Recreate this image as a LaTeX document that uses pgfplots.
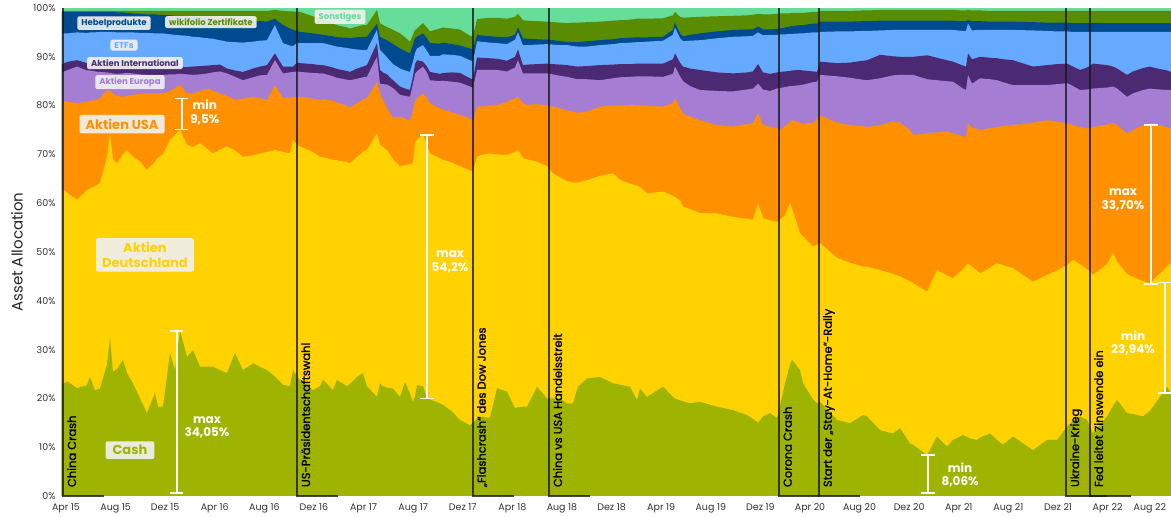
\documentclass[border=0pt]{standalone}
\usepackage{pgfplots}
\pgfplotsset{compat=1.18}
\usepackage{pgfplotstable}
\usepackage{fontspec}
\setmainfont{Poppins}
\newfontfamily\evfont{Poppins}[FakeBold=1.6]
\definecolor{cCash}{HTML}{9EB400}
\definecolor{cDE}{HTML}{FFD200}
\definecolor{cUSA}{HTML}{FF9100}
\definecolor{cEU}{HTML}{A57DD3}
\definecolor{cINT}{HTML}{4B2A73}
\definecolor{cETF}{HTML}{66AAFF}
\definecolor{cHEB}{HTML}{004A8F}
\definecolor{cWIKI}{HTML}{5A8C00}
\definecolor{cSON}{HTML}{66DD99}
\definecolor{boxfill}{HTML}{F0F0F0}

% cumulative tops (percent) of the stacked layers, x in months since Apr 2015
\pgfplotstableread{
m cash de usa eu intl etf hebel wiki
-0.32 23.0 63.0 81.0 86.8 88.5 94.8 99.2 99.4
0.16 23.4 62.0 80.8 87.3 89.0 94.8 99.2 99.4
0.89 22.1 60.7 80.5 88.0 89.3 95.0 99.2 99.4
1.69 22.7 62.7 80.8 87.2 88.7 94.9 99.2 99.4
1.94 24.4 63.0 81.0 87.2 88.7 95.0 99.2 99.4
2.34 21.7 63.5 81.1 87.0 88.6 95.0 99.2 99.4
2.74 22.0 64.1 81.5 86.9 88.5 95.1 99.2 99.4
3.31 27.0 69.5 83.2 86.8 88.4 95.1 99.2 99.4
3.55 32.6 74.3 83.0 86.7 88.3 95.1 99.2 99.4
3.79 25.5 69.0 82.5 86.6 88.3 95.1 99.2 99.4
4.11 26.0 68.2 82.0 86.5 88.2 95.0 99.1 99.4
4.60 27.9 70.0 81.8 86.6 88.3 95.0 99.1 99.4
4.92 25.2 70.9 82.0 86.7 88.4 95.0 99.0 99.4
5.40 23.1 69.5 82.2 86.6 88.2 95.0 98.9 99.4
5.97 20.0 68.5 82.5 86.4 88.0 94.9 98.8 99.4
6.53 17.0 66.8 82.5 86.3 87.8 94.9 98.7 99.4
7.18 21.1 68.5 82.5 86.3 87.8 94.8 98.7 99.4
7.42 18.3 69.3 82.5 86.3 87.7 94.8 98.6 99.4
7.82 18.3 70.0 82.5 86.3 87.6 94.8 98.6 99.4
8.39 29.3 73.0 83.0 86.4 87.7 94.6 98.5 99.4
8.79 25.8 74.0 83.6 86.4 87.8 94.5 98.4 99.4
9.19 34.0 75.0 84.3 86.5 87.9 94.4 98.4 99.4
9.76 28.5 72.0 82.5 86.4 87.9 94.3 98.3 99.4
10.24 29.9 71.5 82.5 86.3 88.0 94.1 98.2 99.4
10.81 26.5 72.3 83.0 86.4 88.1 94.0 98.1 99.4
11.45 26.5 71.0 83.5 86.6 88.2 93.8 98.0 99.4
11.85 26.5 70.2 83.0 86.8 88.3 93.7 97.9 99.4
12.42 25.8 71.0 82.5 87.0 88.4 93.4 97.7 99.4
12.98 25.2 71.6 82.0 86.6 87.6 93.1 97.5 99.4
13.63 29.3 70.8 81.2 85.9 87.2 93.0 97.5 99.4
14.27 25.8 69.5 81.4 85.2 86.9 92.9 97.4 99.4
15.08 27.2 69.8 81.8 85.8 87.6 93.1 97.3 99.4
15.65 26.5 70.2 81.5 86.2 88.0 93.3 97.3 99.4
16.21 25.8 70.5 81.1 86.3 88.3 93.4 97.2 99.4
16.85 24.5 70.9 84.2 89.3 90.7 96.5 97.8 99.6
17.50 22.8 70.5 81.5 86.6 88.0 92.8 96.5 99.4
18.06 22.5 70.2 81.6 86.8 88.0 92.3 95.8 99.3
18.31 25.8 73.0 81.7 86.9 88.0 92.2 95.5 99.3
18.63 24.5 72.0 81.8 87.0 88.8 92.8 95.3 99.2
18.87 23.8 71.6 81.8 86.9 88.7 92.8 95.1 99.2
19.92 21.7 70.5 81.4 86.7 88.5 92.8 94.8 98.3
20.48 22.5 69.5 81.1 86.6 88.3 92.8 94.6 97.8
20.73 23.8 69.4 81.3 86.6 88.3 92.8 94.5 97.5
21.53 21.7 68.9 81.0 86.0 87.8 92.3 94.2 96.8
21.85 23.8 68.8 80.6 85.7 87.5 92.1 94.0 96.5
22.66 22.5 68.4 80.0 85.3 87.1 91.8 93.9 96.0
22.90 23.0 68.2 79.6 85.2 86.9 91.7 93.8 95.8
23.47 24.4 69.5 80.5 85.5 87.6 91.5 94.0 96.2
23.95 25.2 70.5 81.3 85.8 88.0 91.4 94.1 96.5
24.27 22.5 70.9 81.5 85.9 88.3 91.4 94.1 96.5
25.08 20.3 74.3 84.9 90.0 92.8 95.5 96.8 99.6
25.32 23.1 72.0 82.5 84.5 87.3 91.4 94.1 96.9
25.56 22.5 71.5 81.1 84.4 86.8 90.8 93.8 96.5
25.89 22.2 70.9 79.5 84.3 86.4 89.9 93.4 96.1
26.37 22.0 69.0 77.5 83.6 85.2 88.5 92.6 95.5
26.94 20.3 67.5 77.7 82.2 83.9 87.6 91.7 94.8
27.34 23.4 67.8 77.3 82.0 83.5 87.2 91.2 94.0
27.74 21.0 68.0 77.0 81.8 83.2 86.9 90.7 93.1
27.98 19.3 68.2 79.0 84.5 86.0 89.0 92.5 94.5
28.15 20.5 72.3 81.1 86.5 88.5 90.8 93.8 95.5
28.31 22.7 73.0 81.5 87.0 89.3 91.7 94.1 95.8
28.79 22.5 74.0 82.5 88.0 89.0 92.4 94.8 96.9
29.11 20.1 72.0 81.5 86.8 88.0 91.2 93.8 96.0
29.35 19.8 70.2 80.5 85.2 86.9 90.2 92.8 95.2
30.16 19.0 69.2 79.4 85.0 86.5 90.2 92.7 95.8
30.40 18.7 68.9 79.2 85.1 86.7 90.5 92.9 96.0
31.13 17.3 68.3 78.6 84.9 86.8 90.4 92.6 95.8
31.77 15.6 67.6 78.1 84.7 86.7 90.2 92.3 95.6
32.58 14.5 66.7 77.4 83.9 85.6 89.3 91.7 94.3
32.82 15.0 66.5 76.7 83.7 85.4 89.0 91.5 94.3
33.15 15.8 69.5 79.8 87.3 89.9 93.2 94.5 97.7
33.39 16.3 69.8 79.8 87.3 89.8 93.1 94.4 97.8
34.19 16.0 70.2 80.0 87.3 89.7 92.9 94.2 98.0
34.76 22.1 70.0 80.1 87.3 89.6 92.8 94.1 98.0
35.56 21.4 69.9 80.8 87.0 89.2 92.6 94.0 97.8
36.21 18.0 70.5 81.5 87.8 90.0 93.5 94.5 98.2
36.45 18.2 70.9 81.8 89.3 91.5 95.0 96.0 98.8
36.85 18.3 69.2 80.5 86.6 88.3 92.4 93.8 97.5
37.18 18.3 69.0 80.1 86.6 88.4 92.4 93.7 97.4
37.98 22.4 68.5 80.3 86.6 88.5 92.5 93.6 97.3
38.79 20.0 67.6 80.0 86.6 88.6 92.6 93.5 97.2
39.27 20.0 66.1 79.8 86.4 88.5 92.5 93.4 97.1
39.84 20.0 65.3 79.4 86.1 88.4 92.4 93.2 97.0
40.40 19.0 64.5 79.0 85.9 88.3 92.4 93.1 96.9
40.89 19.0 64.2 78.7 85.6 88.1 92.2 93.0 97.0
41.29 22.4 64.3 78.5 85.4 88.0 92.1 93.0 97.0
42.02 24.1 64.7 78.8 85.4 88.1 92.1 93.2 97.1
43.06 24.4 65.6 79.8 85.2 88.3 92.4 93.4 97.2
44.11 23.1 66.1 80.0 85.6 88.4 92.6 93.6 97.4
44.68 22.8 64.8 80.0 85.8 88.5 92.8 93.8 97.5
45.48 22.4 64.0 80.1 85.9 88.5 92.9 93.9 97.6
46.05 19.7 63.6 80.1 86.0 88.6 93.0 94.0 97.8
46.29 22.0 63.3 80.0 86.0 88.6 93.0 94.0 97.8
46.85 20.3 62.0 80.0 86.0 88.6 93.1 94.0 97.8
48.15 22.4 62.4 79.8 85.9 88.6 93.3 94.1 97.9
48.95 20.3 61.5 80.5 86.5 89.5 94.5 95.5 98.5
49.11 20.0 61.3 81.5 88.0 90.7 96.0 97.0 99.2
49.52 19.6 60.5 79.5 86.0 88.8 93.8 94.8 98.2
49.76 19.4 59.3 78.4 85.0 88.0 93.2 94.2 98.0
50.32 19.0 58.8 77.7 84.0 87.6 93.3 94.5 98.1
51.13 19.3 58.0 77.0 83.2 87.3 93.4 94.8 98.2
52.50 18.3 57.9 76.0 83.0 86.8 93.8 95.2 98.3
53.79 17.6 57.2 75.7 82.9 86.6 94.1 95.5 98.4
54.92 16.6 56.8 76.2 83.3 86.8 94.2 95.6 98.5
55.40 15.8 56.6 76.4 83.5 87.0 94.3 95.6 98.6
55.81 15.0 60.0 78.4 84.5 88.5 95.0 96.2 98.8
56.21 16.3 56.9 76.0 83.3 86.8 94.4 95.6 98.7
56.77 17.0 56.5 75.7 83.0 86.5 94.5 95.6 98.7
57.34 16.0 56.2 75.4 83.5 86.8 94.5 95.7 98.8
57.58 18.5 56.6 75.0 83.6 86.9 94.6 95.8 98.9
57.98 23.0 57.5 75.8 83.8 87.0 94.6 96.0 98.9
58.39 27.0 60.0 76.7 84.0 87.1 94.7 96.2 98.9
58.55 27.9 59.0 77.0 84.0 87.2 94.7 96.3 99.0
59.19 25.8 53.8 76.5 84.2 87.3 94.8 96.5 99.0
59.44 23.1 53.2 76.3 84.3 87.2 94.8 96.5 99.0
60.24 19.8 51.1 76.5 84.8 87.0 95.0 96.8 99.2
60.56 19.0 51.5 77.2 84.9 86.9 95.0 96.8 99.2
60.81 19.3 51.8 78.0 86.3 89.0 95.1 97.2 99.4
62.18 15.6 48.8 76.5 86.0 88.7 95.2 97.2 99.4
63.23 14.9 47.8 76.0 85.7 88.8 95.2 97.2 99.4
64.27 16.6 47.0 75.8 85.3 89.2 95.3 97.3 99.5
64.60 16.3 47.0 75.6 85.2 89.3 95.3 97.3 99.5
65.65 13.5 46.3 76.0 85.6 90.4 95.4 97.4 99.6
66.69 12.8 45.5 76.8 86.2 90.1 95.5 97.4 99.6
67.26 13.9 45.0 76.5 86.3 90.0 95.5 97.4 99.6
68.06 10.8 44.0 75.0 86.3 90.0 95.5 97.4 99.6
68.31 10.5 43.6 74.0 86.3 90.0 95.5 97.4 99.6
69.44 8.4 41.9 74.3 85.4 90.3 95.5 97.4 99.6
70.24 12.2 46.3 74.5 85.2 89.8 95.5 97.4 99.6
71.05 10.1 45.2 74.7 85.0 89.3 95.5 97.4 99.6
71.53 11.5 44.6 74.3 84.9 89.0 95.5 97.4 99.6
72.34 12.5 46.5 73.7 83.5 88.2 95.3 97.3 99.5
72.58 12.2 47.2 73.6 83.2 88.0 95.3 97.3 99.5
72.74 12.0 47.7 76.4 86.3 90.7 96.8 97.5 99.6
73.06 11.7 47.0 75.5 84.5 89.5 95.4 97.3 99.5
73.47 11.5 46.2 75.2 85.2 89.8 95.5 97.3 99.5
73.71 12.0 45.6 75.0 85.6 90.0 95.5 97.3 99.5
74.52 12.8 46.8 75.4 85.4 89.8 95.5 97.2 99.4
75.08 11.5 47.7 75.6 85.2 89.7 95.5 97.2 99.4
75.56 10.5 47.3 75.8 84.8 89.5 95.5 97.2 99.4
76.37 12.2 46.7 76.0 84.2 89.3 95.5 97.2 99.4
77.98 9.4 43.9 76.5 84.2 88.0 95.4 97.1 99.4
79.11 11.5 45.3 77.0 84.2 88.3 95.3 97.0 99.4
79.92 11.5 46.2 76.7 84.4 88.5 95.2 97.0 99.4
80.73 14.2 47.3 76.4 84.6 88.6 95.2 97.0 99.4
81.21 15.5 48.4 76.0 84.0 88.0 95.1 96.9 99.4
81.77 16.3 47.5 75.6 83.2 87.3 95.1 96.9 99.4
82.34 15.6 46.5 75.3 83.3 87.8 95.1 96.9 99.4
82.82 12.8 45.3 75.6 83.5 88.6 95.1 96.9 99.4
83.95 16.3 47.5 76.1 83.7 88.3 95.1 96.9 99.4
84.44 18.5 49.8 76.4 83.9 88.0 95.1 96.9 99.4
84.76 19.7 48.0 76.0 83.5 87.6 95.1 96.9 99.4
85.56 17.0 45.5 74.3 81.8 86.3 95.1 96.9 99.4
86.05 16.8 44.9 75.0 82.5 87.0 95.1 96.9 99.4
86.85 16.3 44.0 76.0 83.2 87.7 95.1 96.9 99.4
87.42 17.5 43.6 76.4 83.5 88.0 95.1 96.9 99.4
87.66 18.3 44.2 76.3 83.4 87.8 95.1 96.9 99.4
88.79 22.4 47.0 75.6 83.2 87.2 95.1 96.9 99.4
89.11 21.0 47.7 75.3 83.2 86.9 95.1 96.9 99.4
}\data

\tikzset{
  evline/.style={draw=black!90, opacity=0.8, line width=1.8pt},
  evtext/.style={rotate=90, anchor=north west, inner sep=0pt, font=\evfont\fontsize{11.5}{13}\selectfont, text=black},
  brk/.style={draw=white!95!gray, line width=1.5pt},
  anno/.style={text=white, font=\bfseries\fontsize{12}{13.5}\selectfont, align=center, inner sep=0pt},
  lbl/.style={fill=boxfill, fill opacity=0.92, text opacity=1, rounded corners=2pt, inner xsep=4pt, inner ysep=2.5pt},
}

\begin{document}
\begin{tikzpicture}[x=1pt,y=1pt]
\useasboundingbox (-62,-21) rectangle (1109,496);
\begin{axis}[
  at={(0,0)}, anchor=south west,
  width=1109pt, height=488pt, scale only axis,
  xmin=-0.32, xmax=89.11, ymin=0, ymax=100,
  clip=false,
  axis line style={draw=none},
  major tick length=0pt,
  axis background/.style={fill=cSON},
  xtick={0,4,8,12,16,20,24,28,32,36,40,44,48,52,56,60,64,68,72,76,80,84,87.4},
  xticklabels={Apr 15,Aug 15,Dez 15,Apr 16,Aug 16,Dez 16,Apr 17,Aug 17,Dez 17,Apr 18,Aug 18,Dez 18,Apr 19,Aug 19,Dez 19,Apr 20,Aug 20,Dez 20,Apr 21,Aug 21,Dez 21,Apr 22,Aug 22},
  ytick={0,10,20,30,40,50,60,70,80,90,100},
  yticklabels={0\%,10\%,20\%,30\%,40\%,50\%,60\%,70\%,80\%,90\%,100\%},
  tick label style={font=\fontsize{9.5}{11}\selectfont, text=black!80},
  xticklabel style={yshift=-4pt},
  yticklabel style={xshift=-3pt},
  ylabel={Asset Allocation},
  ylabel style={at={(axis description cs:-0.0406,0.5)}, anchor=center, rotate=0, font=\fontsize{15}{17}\selectfont, text=black!85},
]
\addplot[fill=cWIKI, draw=none] table[x=m, y=wiki] {\data} \closedcycle;
\addplot[fill=cHEB, draw=none] table[x=m, y=hebel] {\data} \closedcycle;
\addplot[fill=cETF, draw=none] table[x=m, y=etf] {\data} \closedcycle;
\addplot[fill=cINT, draw=none] table[x=m, y=intl] {\data} \closedcycle;
\addplot[fill=cEU, draw=none] table[x=m, y=eu] {\data} \closedcycle;
\addplot[fill=cUSA, draw=none] table[x=m, y=usa] {\data} \closedcycle;
\addplot[fill=cDE, draw=none] table[x=m, y=de] {\data} \closedcycle;
\addplot[fill=cCash, draw=none] table[x=m, y=cash] {\data} \closedcycle;

% event lines
\foreach \ex/\txt in {-0.24/China Crash, 18.63/US-Präsidentschaftswahl, 32.82/{„Flashcrash“ des Dow Jones}, 38.95/China vs USA Handelsstreit, 57.5/Corona Crash, 60.73/{Start der „Stay-At-Home“-Rally}, 80.65/Ukraine-Krieg, 82.58/Fed leitet Zinswende ein}{
  \edef\temp{\noexpand\draw[evline] (axis cs:\ex,100) -- (axis cs:\ex,0) -- ++(37pt,0);}
  \temp
  \edef\temp{\noexpand\node[evtext] at ([xshift=4pt]axis cs:\ex,1.8) {\unexpanded\expandafter{\txt}};}
  \temp
}

% brackets
\draw[brk] (axis cs:9.35,75.1) -- (axis cs:9.35,81.5);
\draw[brk] ([xshift=-6.5pt]axis cs:9.35,75.1) -- ([xshift=6.5pt]axis cs:9.35,75.1);
\draw[brk] ([xshift=-6.5pt]axis cs:9.35,81.5) -- ([xshift=6.5pt]axis cs:9.35,81.5);
\node[anno] at (axis cs:11.2,78.6) {min\\9,5\%};

\draw[brk] (axis cs:8.95,0.6) -- (axis cs:8.95,33.8);
\draw[brk] ([xshift=-6.5pt]axis cs:8.95,0.6) -- ([xshift=6.5pt]axis cs:8.95,0.6);
\draw[brk] ([xshift=-6.5pt]axis cs:8.95,33.8) -- ([xshift=6.5pt]axis cs:8.95,33.8);
\node[anno] at (axis cs:11.37,14.1) {max\\34,05\%};

\draw[brk] (axis cs:29.11,20) -- (axis cs:29.11,74);
\draw[brk] ([xshift=-7pt]axis cs:29.11,20) -- ([xshift=7pt]axis cs:29.11,20);
\draw[brk] ([xshift=-7pt]axis cs:29.11,74) -- ([xshift=7pt]axis cs:29.11,74);
\node[anno] at (axis cs:30.97,48) {max\\54,2\%};

\draw[brk] (axis cs:69.52,0.6) -- (axis cs:69.52,8.4);
\draw[brk] ([xshift=-7pt]axis cs:69.52,0.6) -- ([xshift=7pt]axis cs:69.52,0.6);
\draw[brk] ([xshift=-7pt]axis cs:69.52,8.4) -- ([xshift=7pt]axis cs:69.52,8.4);
\node[anno] at (axis cs:72.1,4.3) {min\\8,06\%};

\draw[brk] (axis cs:87.5,43.4) -- (axis cs:87.5,76);
\draw[brk] ([xshift=-7pt]axis cs:87.5,43.4) -- ([xshift=7pt]axis cs:87.5,43.4);
\draw[brk] ([xshift=-7pt]axis cs:87.5,76) -- ([xshift=7pt]axis cs:87.5,76);
\node[anno] at (axis cs:85.24,60.7) {max\\33,70\%};

\draw[brk] (axis cs:88.63,21.1) -- (axis cs:88.63,43.7);
\draw[brk] ([xshift=-7pt]axis cs:88.63,21.1) -- ([xshift=6pt]axis cs:88.63,21.1);
\draw[brk] ([xshift=-7pt]axis cs:88.63,43.7) -- ([xshift=6pt]axis cs:88.63,43.7);
\node[anno] at (axis cs:86.05,31.4) {min\\23,94\%};

% series labels
\node[lbl, text=cHEB, font=\bfseries\fontsize{8.5}{10}\selectfont] at (axis cs:3.87,96.9) {Hebelprodukte};
\node[lbl, text=cWIKI, font=\bfseries\fontsize{8.5}{10}\selectfont] at (axis cs:11.69,97.1) {wikifolio Zertifikate};
\node[lbl, text=cSON, font=\bfseries\fontsize{8.5}{10}\selectfont] at (axis cs:22.1,98.2) {Sonstiges};
\node[lbl, text=cETF, font=\bfseries\fontsize{8.5}{10}\selectfont] at (axis cs:4.68,92.4) {ETFs};
\node[lbl, text=cINT, font=\bfseries\fontsize{8.5}{10}\selectfont] at (axis cs:5.56,88.7) {Aktien International};
\node[lbl, text=cEU, font=\bfseries\fontsize{8.5}{10}\selectfont] at (axis cs:5.16,84.8) {Aktien Europa};
\node[lbl, text=cUSA, font=\bfseries\fontsize{13}{15}\selectfont, inner xsep=6pt, inner ysep=4pt] at (axis cs:4.52,76.2) {Aktien USA};
\node[lbl, text=cDE, font=\bfseries\fontsize{13}{15}\selectfont, align=center, inner xsep=6pt, inner ysep=4pt] at (axis cs:6.37,49.4) {Aktien\\Deutschland};
\node[lbl, text=cCash, font=\bfseries\fontsize{13}{15}\selectfont, inner xsep=7pt, inner ysep=4pt] at (axis cs:5.16,9.4) {Cash};
\end{axis}
\end{tikzpicture}
\end{document}
